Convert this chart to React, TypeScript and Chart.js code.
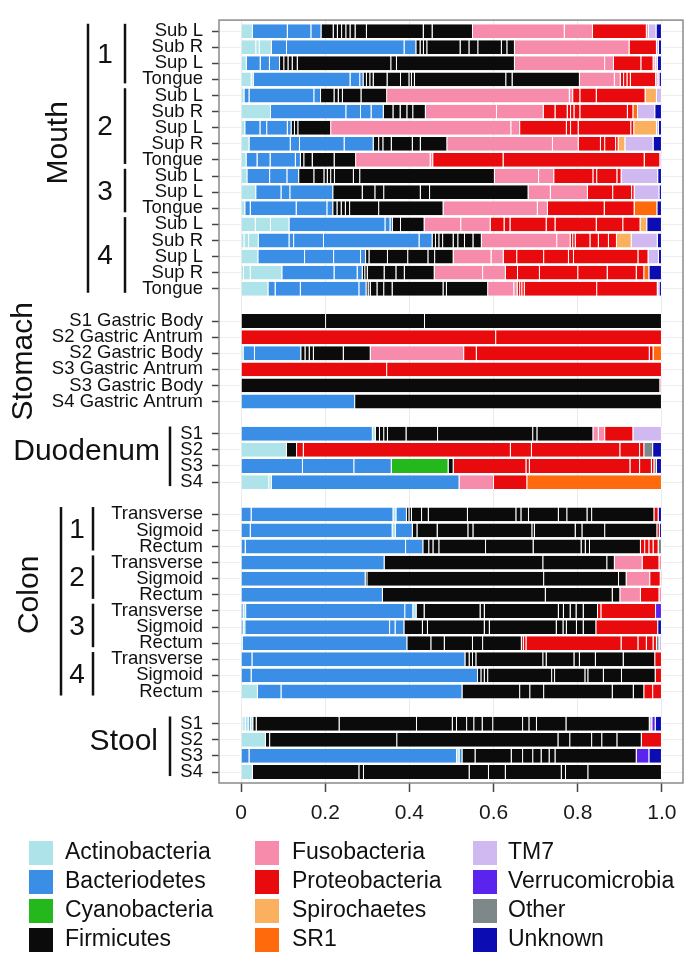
import React, { useEffect, useRef } from "react";
import { Chart, registerables } from "chart.js";

Chart.register(...registerables);

// ---------- legend / phyla ----------
const phylumCodes = ["A", "B", "C", "F", "U", "P", "S", "R", "T", "V", "O", "N"];
const phylumNames = [
  "Actinobacteria", "Bacteriodetes", "Cyanobacteria", "Firmicutes",
  "Fusobacteria", "Proteobacteria", "Spirochaetes", "SR1",
  "TM7", "Verrucomicrobia", "Other", "Unknown",
];
const phylumColors = [
  "#aee3ea", "#3a8ee5", "#24b81c", "#0b0b0b",
  "#f68bab", "#e90a0d", "#fbb060", "#ff6a0c",
  "#d0b9f1", "#5a24ee", "#7e8888", "#0b0cb2",
];

// ---------- rows (segments: phylum code + percent, left to right) ----------
const mouthLabels = ["Sub L", "Sub R", "Sup L", "Tongue", "Sub L", "Sub R", "Sup L", "Sup R", "Tongue", "Sub L", "Sup L", "Tongue", "Sub L", "Sub R", "Sup L", "Sup R", "Tongue"];
const mouthSubjects = ["1", "2", "3", "4"];
const mouthSubjectSizes = [4, 5, 3, 5];
const mouthSegments = [
  "A2.8 B8.3 B5.6 B2.4 F2.9 F1 F1 F1 F1 F1.2 F2.7 F13.5 F2.1 F9.6 U21.8 U6.7 P12.8 U0.5 T1.8 N1.3",
  "A3.6 A0.8 A2.9 B3.6 B27.9 B2.8 F1 F0.8 F0.8 F7.9 F2.1 F2.1 F5.6 F1.3 F1.8 U27.2 P6.5 T0.5 N0.7",
  "A1.35 B3.3 B2.2 B2.4 F1 F1 F1 F1.2 F22.2 F1.35 F28 U21.4 U2.1 P6.5 P2.9 U0.5 T0.5 N1",
  "A2.5 A0.5 B23 B2.3 B0.8 F0.8 F0.8 F0.8 F3.3 F3.2 F2 F0.6 F0.7 F21.7 F1.5 F16 U8.3 U1.4 P0.8 P0.8 P0.8 P6 U0.3 T0.5 N0.6",
  "A0.8 B1.2 B15.4 B1.6 F3.2 F1 F1 F4.4 F6.1 U43.4 U0.8 P1.7 P3.9 P11.6 S2.7 T1.2",
  "A7.1 B17.9 B3.5 B2.5 B2.9 F2.3 F1.7 F1.6 F1.4 F3 U16.9 U11.1 P2.8 P2.9 P0.8 P0.8 P1.4 P11.3 P1.3 R1.1 T4.1 N1.6",
  "A1 B3.6 B1.6 B4.9 B0.9 F0.8 F0.8 F7.8 U42.8 U2.1 P11.1 P1 P1.8 P12.5 P0.7 S5.4 T0.5 N0.7",
  "A2 B9.8 B2.2 B10.6 B6.9 F1.3 F1 F2 F5 F1.9 F6.3 U25.1 U6.1 P5.3 P1 P2.6 P0.6 S1.6 T6.7 N2",
  "A1.3 B2.6 B3.1 B6 B1.2 F0.8 F2 F5.2 F5.1 U17.7 U0.6 P16.7 P33.5 P3.7 T0.4",
  "A1.5 B5.4 B4.1 B2.8 F3.6 F2.4 F0.8 F0.8 F0.9 F4.5 F1.5 F32 U10.5 U3.6 P9.3 P0.9 P4.8 P1 T8.7 N0.9",
  "A3.6 B6 B2.1 B10.2 F7 F3 F2.1 F8.7 F2.2 F23.4 U5.3 U8.8 P6 P4.5 P0.6 T5.9 N0.6",
  "A1 B1.3 B10.9 B7.3 B1.4 F1 F1 F1 F1 F6.9 F15.3 U22.4 U2.4 P13.5 P7.1 R5.4 N1.1",
  "A3.5 A3.6 A4.4 B22.8 B1.2 B0.6 F1.9 F5.6 U8.7 U7 P3.3 P1.4 P8.6 P2.1 P9.8 P6.3 P4.1 S1.6 N3.5",
  "A0.8 A1.1 A2.3 B7.3 B1.1 B7.1 B22.7 B3.1 F0.8 F0.8 F0.9 F2.5 F1.1 F1.6 F2 F2 U17.9 U3.2 P0.6 P0.6 P3.5 P2 P2.4 P1.9 S3.5 T6.2 N1",
  "A4.1 B11.1 B6.9 B6.4 B1.2 F0.8 F4.4 F4.8 F4.8 F1.6 F4.4 U9 U2.9 P3.2 P6.4 P5.9 P1.2 P15.3 P2.4 T2.5 N0.7",
  "A0.7 A1.6 A7.5 B12.4 B5.5 B1.2 F0.6 F0.6 F4 F2.8 F2 F7.1 U11.5 U5.4 P2.9 P5.2 P9.1 P7 P6.9 P1.8 R1.2 N3",
  "A6.5 B1.7 B6 B13.9 B1.7 F0.5 F0.5 F1.6 F1.6 F2 F12.1 F0.8 F9.8 U6.2 U0.8 P0.6 P0.5 P0.6 P17.2 P14.4 T0.4 N0.6",
];

const stomachLabels = ["S1 Gastric Body", "S2 Gastric Antrum", "S2 Gastric Body", "S3 Gastric Antrum", "S3 Gastric Body", "S4 Gastric Antrum"];
const stomachSegments = [
  "F20.2 F23.5 F56.3",
  "P60.6 P39.4",
  "A0.6 B2.7 B11 F1 F1 F1 F7.1 F6.4 U22.2 P3 P41.1 P0.9 R2",
  "P34.7 P65.3",
  "F99.6 U0.4",
  "B27.1 F72.9",
];

const duodenumLabels = ["S1", "S2", "S3", "S4"];
const duodenumSegments = [
  "B31.3 A0.7 F1 F1 F0.9 F4.4 F7.5 F22.6 F1 F13.3 U1.3 U1.5 P6.7 T6.8",
  "A10.9 F2.4 P1.6 P49.2 P5 P21 P4.7 P1 O2.1 N2.1",
  "B14.7 B12.2 B8.9 C13.5 F1.2 P17.3 P0.8 P23.9 P2.3 P2.8 P0.6 O0.6 N1.2",
  "A6.7 A0.6 B44.6 U8.2 P7.9 R32",
];

const colonLabels = ["Transverse", "Sigmoid", "Rectum", "Transverse", "Sigmoid", "Rectum", "Transverse", "Sigmoid", "Rectum", "Transverse", "Sigmoid", "Rectum"];
const colonSubjects = ["1", "2", "3", "4"];
const colonSubjectSizes = [3, 3, 3, 3];
const colonSegments = [
  "B2.5 B33.7 A0.7 B2.5 F0.6 F0.6 F2.4 F1.6 F9.3 F11.5 F1.2 F1.8 F7.1 F2 F4.8 F1.1 F14.8 P1 N0.8",
  "B2.3 B33.7 A0.8 B4 F1.1 F4.8 F7.3 F1.2 F14 F0.6 F9.7 F1.6 F5.4 F12.4 P0.6 N0.5",
  "B1.1 B38.1 B4.1 F1.4 F1 F1.4 F11.1 F11.3 F11.4 F1 F1 F12.1 P1 P1 P1 P1.2 O0.8",
  "B34.1 F37.7 F15.2 F1.8 U6.6 P4 U0.6",
  "B29.6 F0.4 F42 F17.8 F1.8 U5.6 P2.5 U0.3",
  "B33.7 F38.7 F15.9 F1.8 U4.9 P4.4 U0.6",
  "B0.6 A0.6 B37.8 B1.9 A0.8 F1.9 F13.3 F1 F17.6 F1.2 F1.6 F1.4 F1.7 F3.4 P0.8 P13 V1.4",
  "B0.6 A0.4 B34.4 B1.3 B2.1 F4.4 F1.2 F13.5 F1.2 F15.9 F1.6 F0.8 F2.4 F1.6 F3 P14.7 N0.9",
  "A0.4 B39.1 F5.7 F3.2 F6.7 F2.4 F9.2 P0.5 P0.6 P22.6 P4 P2 P1.6 P0.8 O0.6 T0.6",
  "B2.7 B50.6 F1 F0.8 F0.8 F15.9 F0.8 F6.6 F1.3 F3.8 F6.6 F7.5 P1.6",
  "B2.5 B53.8 F0.8 F0.8 F0.8 F15.2 F0.7 F7.2 F0.7 F3.7 F4.3 F8 P1.5",
  "A4 B5.6 B43 F13.7 F2.4 F3.3 F16.3 F5 F2.5 P2.1 P2.1",
];

const stoolLabels = ["S1", "S2", "S3", "S4"];
const stoolSegments = [
  "A0.5 A0.6 A0.7 B0.5 A0.6 F0.8 F19.7 F18.4 F8.5 F1 F2.4 F1.7 F2 F2.5 F7.1 F1.5 F1.8 F7 F19.8 T0.6 V0.8 N1.5",
  "A5.9 F1 F30.2 F38.3 F2.8 F5.2 F2.4 F3.6 F5.8 P4.8",
  "B2 B49.3 A0.6 B0.7 F3.1 F8.6 F2.7 F2.4 F2 F1.9 F1.4 F19.3 V3 N3",
  "A2.8 F25.3 F1.1 F25.1 F4.6 F4 F13.3 F1 F5.3 F17.5",
];

const xTickValues = [0, 0.2, 0.4, 0.6, 0.8, 1.0];

// ---------- build rows ----------
type Seg = { code: string; v: number };
const parseSegs = (s: string): Seg[] =>
  s.trim().split(/\s+/).map((t) => ({ code: t[0], v: parseFloat(t.slice(1)) }));

const sections = [
  { name: "Mouth", labels: mouthLabels, segs: mouthSegments },
  { name: "Stomach", labels: stomachLabels, segs: stomachSegments },
  { name: "Duodenum", labels: duodenumLabels, segs: duodenumSegments },
  { name: "Colon", labels: colonLabels, segs: colonSegments },
  { name: "Stool", labels: stoolLabels, segs: stoolSegments },
];

const rowLabels: string[] = [];
const rowSegs: (Seg[] | null)[] = [];
const sectionStart: Record<string, number> = {};
sections.forEach((sec, si) => {
  if (si > 0) {
    rowLabels.push("");
    rowSegs.push(null);
  }
  sectionStart[sec.name] = rowLabels.length;
  sec.labels.forEach((l, i) => {
    rowLabels.push(l);
    rowSegs.push(parseSegs(sec.segs[i]));
  });
});
const nRows = rowLabels.length;

const colorOf: Record<string, string> = {};
phylumCodes.forEach((c, i) => (colorOf[c] = phylumColors[i]));

const FONT = '"Liberation Sans", Arial, Helvetica, sans-serif';

function buildDatasets() {
  const maxSeg = Math.max(...rowSegs.map((s) => (s ? s.length : 0)));
  const ds: any[] = [];
  for (let k = 0; k < maxSeg; k++) {
    const data: any[] = [];
    rowSegs.forEach((segs, row) => {
      if (segs && segs[k]) {
        const total = segs.reduce((a, b) => a + b.v, 0);
        data.push({ x: segs[k].v / total, y: row, c: colorOf[segs[k].code] });
      }
    });
    ds.push({
      data,
      backgroundColor: (ctx: any) => (ctx.raw ? ctx.raw.c : "#000"),
      borderColor: "#ffffff",
      borderWidth: { left: 0, right: 1, top: 0, bottom: 0 },
      borderSkipped: false,
      barPercentage: 0.86,
      categoryPercentage: 1,
    });
  }
  return ds;
}

const annotatePlugin = {
  id: "annotate",
  afterDraw(chart: any) {
    const ctx: CanvasRenderingContext2D = chart.ctx;
    const ys = chart.scales.y;
    const area = chart.chartArea;
    const pix = (r: number) => ys.getPixelForValue(r);
    const pitch = Math.abs(pix(1) - pix(0));

    // frame
    ctx.save();
    ctx.strokeStyle = "#8a8a8a";
    ctx.lineWidth = 1.5;
    ctx.strokeRect(area.left, area.top, area.right - area.left, area.bottom - area.top);
    ctx.restore();

    ctx.save();
    ctx.fillStyle = "#111";
    ctx.strokeStyle = "#111";
    ctx.lineWidth = 2.5;
    const vline = (x: number, a: number, b: number) => {
      ctx.beginPath();
      ctx.moveTo(x, pix(a) - 0.45 * pitch);
      ctx.lineTo(x, pix(b) + 0.25 * pitch);
      ctx.stroke();
    };
    const rotText = (t: string, x: number, y: number, size: number) => {
      ctx.save();
      ctx.translate(x, y);
      ctx.rotate(-Math.PI / 2);
      ctx.font = `${size}px ${FONT}`;
      ctx.textAlign = "center";
      ctx.textBaseline = "middle";
      ctx.fillText(t, 0, 0);
      ctx.restore();
    };
    const text = (t: string, x: number, y: number, size: number, align: CanvasTextAlign) => {
      ctx.font = `${size}px ${FONT}`;
      ctx.textAlign = align;
      ctx.textBaseline = "middle";
      ctx.fillText(t, x, y);
    };

    // Mouth
    const m0 = sectionStart["Mouth"];
    const mN = mouthLabels.length;
    rotText("Mouth", 59, pix(m0 + 7) - 1, 30);
    vline(88, m0, m0 + mN - 1);
    let r = m0;
    mouthSubjects.forEach((s, i) => {
      const a = r, b = r + mouthSubjectSizes[i] - 1;
      vline(125, a, b);
      text(s, 105, pix((a + b) / 2), 28, "center");
      r = b + 1;
    });

    // Stomach
    const s0 = sectionStart["Stomach"];
    rotText("Stomach", 24, pix(s0 + (stomachLabels.length - 1) / 2), 30);

    // Duodenum
    const d0 = sectionStart["Duodenum"];
    const dN = duodenumLabels.length;
    text("Duodenum", 160, pix(d0 + (dN - 1) / 2) - 6, 30, "right");
    vline(170, d0, d0 + dN - 1);

    // Colon
    const c0 = sectionStart["Colon"];
    const cN = colonLabels.length;
    rotText("Colon", 30, pix(c0 + 5), 30);
    vline(61, c0, c0 + cN - 1);
    r = c0;
    colonSubjects.forEach((s, i) => {
      const a = r, b = r + colonSubjectSizes[i] - 1;
      vline(93, a, b);
      text(s, 77, pix((a + b) / 2), 28, "center");
      r = b + 1;
    });

    // Stool
    const t0 = sectionStart["Stool"];
    const tN = stoolLabels.length;
    text("Stool", 158, pix(t0 + (tN - 1) / 2) - 6, 30, "right");
    vline(170, t0, t0 + tN - 1);
    ctx.restore();

    // legend
    ctx.save();
    const colX = [29, 255, 473];
    const textX = [65, 292, 508];
    const rowY = [853, 882, 911, 940];
    ctx.font = `23px ${FONT}`;
    ctx.textAlign = "left";
    ctx.textBaseline = "middle";
    phylumNames.forEach((name, i) => {
      const c = Math.floor(i / 4), rr = i % 4;
      ctx.fillStyle = phylumColors[i];
      ctx.fillRect(colX[c], rowY[rr] - 12, 24, 24);
      ctx.fillStyle = "#111";
      ctx.fillText(name, textX[c], rowY[rr]);
    });
    ctx.restore();
  },
};

export default function App() {
  const ref = useRef<HTMLCanvasElement | null>(null);
  useEffect(() => {
    if (!ref.current) return;
    Chart.defaults.font.family = FONT;
    const chart = new Chart(ref.current, {
      type: "bar",
      data: { datasets: buildDatasets() },
      options: {
        indexAxis: "y",
        responsive: false,
        devicePixelRatio: 1,
        animation: false,
        events: [],
        layout: { padding: { top: 18, right: 17, left: 0, bottom: 0 } },
        plugins: { legend: { display: false }, tooltip: { enabled: false } },
        scales: {
          x: {
            type: "linear",
            stacked: true,
            min: -0.0524,
            max: 1.05,
            offset: false,
            afterBuildTicks: (scale: any) => {
              scale.ticks = xTickValues.map((v) => ({ value: v }));
            },
            afterFit: (scale: any) => {
              scale.height = 971 - 783;
            },
            ticks: {
              callback: (v: any) => (Number(v) === 0 ? "0" : Number(v).toFixed(1)),
              font: { size: 21, family: FONT },
              color: "#1a1a1a",
              padding: 9,
              maxRotation: 0,
              autoSkip: false,
            },
            grid: { offset: false, color: "#ebebeb", lineWidth: 1, tickLength: 9, tickColor: "#444", tickWidth: 1.5 },
            border: { display: false },
          },
          y: {
            type: "linear",
            stacked: true,
            reverse: true,
            offset: false,
            min: -0.68,
            max: nRows - 1 + 0.68,
            afterBuildTicks: (scale: any) => {
              scale.ticks = rowLabels
                .map((l, i) => ({ l, i }))
                .filter((o) => o.l !== "")
                .map((o) => ({ value: o.i }));
            },
            afterFit: (scale: any) => {
              scale.width = 219;
            },
            ticks: {
              callback: (v: any) => rowLabels[Math.round(Number(v))] || "",
              font: { size: 18.5, family: FONT },
              color: "#111111",
              padding: 9,
              autoSkip: false,
              maxRotation: 0,
            },
            grid: { offset: false, color: "#eeeeee", lineWidth: 1, tickLength: 7, tickColor: "#444", tickWidth: 1.5 },
            border: { display: false },
          },
        },
      },
      plugins: [annotatePlugin],
    } as any);
    return () => chart.destroy();
  }, []);

  return (
    <div style={{ position: "absolute", left: 0, top: 0, width: 700, height: 971, background: "#fff" }}>
      <canvas ref={ref} width={700} height={971} style={{ display: "block" }} />
    </div>
  );
}
